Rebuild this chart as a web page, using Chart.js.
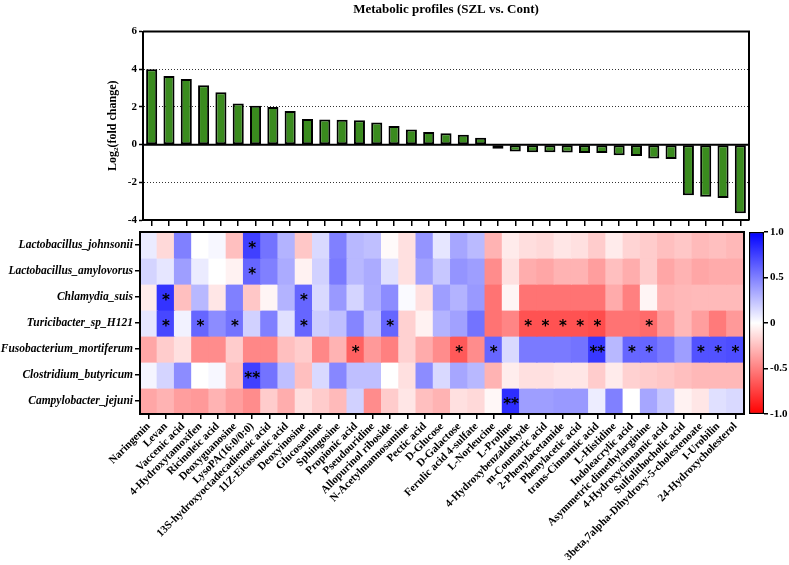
<!DOCTYPE html>
<html>
<head>
<meta charset="utf-8">
<script src="https://cdn.jsdelivr.net/npm/chart.js@4.4.0/dist/chart.umd.min.js"></script>
<style>
  body { margin: 0; background: #fff; }
  #wrap { position: relative; width: 789px; height: 565px; }
  canvas { position: absolute; }
</style>
</head>
<body>
<div id="wrap">
  <canvas id="bars" style="left:0;top:0" width="789" height="232"></canvas>
  <canvas id="heat" style="left:0;top:222px" width="789" height="343"></canvas>
  <canvas id="scale" style="left:735px;top:222px" width="54" height="343"></canvas>
</div>
<script>
// metabolites (x categories, shared by bars and heatmap)
const metabolites = [
  "Naringenin", "Levan", "Vaccenic acid", "4-Hydroxytamoxifen", "Ricinoleic acid",
  "Deoxyguanosine", "LysoPA(16:0/0:0)", "13S-hydroxyoctadecadienoic acid", "11Z-Eicosenoic acid",
  "Deoxyinosine", "Glucosamine", "Sphingosine", "Propionic acid", "Pseudouridine",
  "Allopurinol riboside", "N-Acetylmannosamine", "Pectic acid", "D-Glucose", "D-Galactose",
  "Ferulic acid 4-sulfate", "L-Norleucine", "L-Proline", "4-Hydroxybenzaldehyde",
  "m-Coumaric acid", "2-Phenylacetamide", "Phenylacetic acid", "trans-Cinnamic acid",
  "L-Histidine", "Indoleacrylic acid", "Asymmetric dimethylarginine", "4-Hydroxycinnamic acid",
  "Sulfolithocholic acid", "3beta,7alpha-Dihydroxy-5-cholestenoate", "I-Urobilin",
  "24-Hydroxycholesterol"
];

// log2 fold change (SZL vs. Cont)
const log2FC = [
  4.0, 3.64, 3.49, 3.15, 2.78, 2.18, 2.06, 2.0, 1.78, 1.36, 1.34, 1.32, 1.30, 1.18,
  0.99, 0.81, 0.67, 0.60, 0.53, 0.37, -0.22, -0.37, -0.40, -0.40, -0.42, -0.44, -0.44,
  -0.56, -0.60, -0.74, -0.76, -2.69, -2.76, -2.83, -3.64
];

const bacteria = [
  "Lactobacillus_johnsonii", "Lactobacillus_amylovorus", "Chlamydia_suis",
  "Turicibacter_sp_H121", "Fusobacterium_mortiferum", "Clostridium_butyricum",
  "Campylobacter_jejuni"
];

// correlation coefficients, one row per bacterium
const johnsonii = [0.08, -0.15, 0.5, 0.0, 0.03, -0.25, 0.75, 0.55, 0.3, -0.22, 0.15, 0.5, 0.28, 0.25, -0.02, -0.12, 0.42, 0.1, 0.35, 0.27, -0.3, -0.08, -0.13, -0.15, -0.1, -0.12, -0.2, -0.08, -0.17, -0.2, -0.25, -0.22, -0.27, -0.25, -0.28];
const amylovorus = [0.17, 0.1, 0.38, 0.08, 0.0, -0.05, 0.6, 0.5, 0.33, -0.05, 0.18, 0.52, 0.28, 0.33, 0.12, -0.12, 0.37, 0.22, 0.42, 0.38, -0.45, -0.12, -0.32, -0.35, -0.3, -0.3, -0.38, -0.25, -0.32, -0.2, -0.35, -0.3, -0.35, -0.33, -0.33];
const chlamydia = [-0.08, 0.8, -0.25, 0.28, -0.1, 0.5, -0.22, -0.04, 0.3, 0.6, 0.15, 0.4, 0.17, 0.32, 0.45, 0.02, -0.12, 0.38, 0.3, 0.4, -0.55, -0.04, -0.55, -0.55, -0.55, -0.55, -0.55, -0.33, -0.5, -0.04, -0.3, -0.28, -0.27, -0.27, -0.27];
const turicibacter = [0.1, 0.72, 0.05, 0.6, 0.45, 0.55, 0.18, 0.5, 0.12, 0.6, 0.2, 0.25, 0.48, 0.25, 0.6, -0.18, -0.05, 0.3, 0.37, 0.55, -0.55, -0.48, -0.68, -0.68, -0.68, -0.68, -0.7, -0.55, -0.55, -0.58, -0.4, -0.28, -0.38, -0.52, -0.4];
const fusobacterium = [-0.35, -0.2, -0.12, -0.45, -0.45, -0.2, -0.47, -0.47, -0.25, -0.2, -0.47, -0.3, -0.62, -0.4, -0.5, -0.18, -0.33, -0.45, -0.65, -0.45, 0.6, 0.15, 0.52, 0.52, 0.52, 0.55, 0.78, 0.28, 0.6, 0.6, 0.52, 0.38, 0.68, 0.68, 0.7];
const clostridium = [0.04, 0.17, 0.45, 0.0, 0.03, -0.25, 0.75, 0.55, 0.25, -0.25, 0.15, 0.47, 0.25, 0.25, 0.0, -0.12, 0.45, 0.15, 0.35, 0.28, -0.3, -0.07, -0.12, -0.12, -0.1, -0.1, -0.2, -0.08, -0.18, -0.2, -0.22, -0.25, -0.28, -0.28, -0.28];
const campylobacter = [-0.35, -0.3, -0.38, -0.4, -0.3, -0.38, -0.45, -0.2, -0.32, -0.13, -0.2, -0.27, 0.18, -0.45, -0.2, -0.1, -0.25, -0.3, -0.12, -0.15, -0.03, 0.82, 0.38, 0.38, 0.4, 0.4, 0.07, 0.5, 0.0, 0.35, 0.22, -0.05, -0.1, 0.12, 0.15];
const heatRows = [johnsonii, amylovorus, chlamydia, turicibacter, fusobacterium, clostridium, campylobacter];

// significance marks: [row, column, mark]
const sigMarks = [
  [0, 6, "*"], [1, 6, "*"], [2, 1, "*"], [2, 9, "*"],
  [3, 1, "*"], [3, 3, "*"], [3, 5, "*"], [3, 9, "*"], [3, 14, "*"],
  [3, 22, "*"], [3, 23, "*"], [3, 24, "*"], [3, 25, "*"], [3, 26, "*"], [3, 29, "*"],
  [4, 12, "*"], [4, 18, "*"], [4, 20, "*"], [4, 26, "**"], [4, 28, "*"], [4, 29, "*"],
  [4, 32, "*"], [4, 33, "*"], [4, 34, "*"],
  [5, 6, "**"], [6, 21, "**"]
];

const scaleTicks = [-1, -0.5, 0, 0.5, 1];

const serif = "'Liberation Serif', 'Times New Roman', serif";

function cellColor(v) {
  const t = Math.min(Math.abs(v), 1);
  const c = Math.round(255 * (1 - t));
  return v >= 0 ? `rgb(${c},${c},255)` : `rgb(255,${c},${c})`;
}

// box around the bar plot + solid zero line
const barFrame = {
  id: 'barFrame',
  afterDatasetsDraw(chart) {
    const {ctx, chartArea: a, scales} = chart;
    const y0 = scales.y.getPixelForValue(0);
    ctx.save();
    ctx.strokeStyle = '#000';
    ctx.lineWidth = 2;
    ctx.beginPath();
    ctx.moveTo(a.left, a.top); ctx.lineTo(a.right, a.top); ctx.lineTo(a.right, a.bottom);
    ctx.moveTo(a.left, y0); ctx.lineTo(a.right, y0);
    ctx.stroke();
    ctx.restore();
  }
};

new Chart('bars', {
  type: 'bar',
  data: {
    labels: metabolites,
    datasets: [{
      data: log2FC,
      backgroundColor: '#3a8b1e',
      borderColor: '#000',
      borderWidth: 2,
      borderSkipped: false,
      barPercentage: 0.64,
      categoryPercentage: 1
    }]
  },
  options: {
    responsive: false,
    animation: false,
    layout: { padding: { top: 0, right: 40, bottom: 0, left: 100 } },
    plugins: {
      legend: { display: false },
      tooltip: { enabled: false },
      title: {
        display: true,
        fullSize: false,
        text: 'Metabolic profiles (SZL vs. Cont)',
        color: '#000',
        font: { family: serif, size: 13, weight: 'bold' },
        padding: { top: 2, bottom: 14 }
      }
    },
    scales: {
      x: {
        grid: { offset: false, drawOnChartArea: false, color: '#000', lineWidth: 1.5, tickLength: 6 },
        border: { color: '#000', width: 2 },
        ticks: { display: false },
        afterFit: a => { a.height = 12; }
      },
      y: {
        min: -4, max: 6,
        ticks: { stepSize: 2, color: '#000', padding: 2, font: { family: serif, size: 11, weight: 'bold' } },
        grid: { color: '#333', lineWidth: 1, tickLength: 4, tickColor: '#000', tickWidth: 1.5 },
        border: { color: '#000', width: 2, dash: [1, 2] },
        title: {
          display: true,
          text: 'Log\u2082(fold change)',
          color: '#000',
          font: { family: serif, size: 12, weight: 'bold' },
          padding: { top: 6, bottom: 2 }
        },
        afterFit: a => { a.width = 43; }
      }
    }
  },
  plugins: [barFrame]
});

// frame + significance stars for the heatmap
const heatDecor = {
  id: 'heatDecor',
  afterDatasetsDraw(chart) {
    const {ctx, chartArea: a, scales} = chart;
    ctx.save();
    ctx.fillStyle = '#000';
    ctx.font = "bold 15px 'DejaVu Sans', sans-serif";
    ctx.textAlign = 'center';
    ctx.textBaseline = 'middle';
    sigMarks.forEach(([r, c, m]) => {
      const x = scales.x.getPixelForValue(c);
      const y = scales.y.getPixelForValue(r + 0.5);
      ctx.fillText(m, x, y + 4);
    });
    ctx.strokeStyle = '#000';
    ctx.lineWidth = 2;
    ctx.strokeRect(a.left, a.top, a.right - a.left, a.bottom - a.top);
    ctx.restore();
  }
};

new Chart('heat', {
  type: 'bar',
  data: {
    labels: metabolites,
    datasets: heatRows.map((vals, r) => ({
      label: bacteria[r],
      data: vals.map(() => 1),
      backgroundColor: vals.map(cellColor),
      borderWidth: 0,
      barPercentage: 1,
      categoryPercentage: 1,
      inflateAmount: 0.6
    }))
  },
  options: {
    responsive: false,
    animation: false,
    layout: { padding: { top: 10, right: 45, bottom: 0, left: 0 } },
    plugins: { legend: { display: false }, tooltip: { enabled: false } },
    scales: {
      x: {
        stacked: true,
        grid: { offset: false, drawOnChartArea: false, color: '#000', lineWidth: 1.5, tickLength: 5 },
        border: { color: '#000', width: 2 },
        ticks: {
          autoSkip: false, minRotation: 45, maxRotation: 45, padding: 1, color: '#000',
          font: { family: serif, size: 11, weight: 'bold' }
        },
        afterFit: a => { a.height = 151; }
      },
      y: {
        stacked: true,
        reverse: true,
        min: 0, max: 7,
        afterBuildTicks: a => { a.ticks = bacteria.map((b, i) => ({ value: i + 0.5 })); },
        ticks: {
          color: '#000', padding: 2,
          font: { family: serif, size: 11.5, weight: 'bold', style: 'italic' },
          callback: v => bacteria[Math.floor(v)]
        },
        grid: { drawOnChartArea: false, color: '#000', lineWidth: 1.5, tickLength: 5 },
        border: { color: '#000', width: 2 },
        afterFit: a => { a.width = 140; }
      }
    }
  },
  plugins: [heatDecor]
});

// colour scale bar
new Chart('scale', {
  type: 'bar',
  data: {
    labels: [''],
    datasets: [{
      data: [[scaleTicks[0], scaleTicks[scaleTicks.length - 1]]],
      backgroundColor: ctx => {
        const a = ctx.chart.chartArea;
        if (!a) return '#fff';
        const g = ctx.chart.ctx.createLinearGradient(0, a.top, 0, a.bottom);
        g.addColorStop(0, cellColor(1));
        g.addColorStop(0.5, cellColor(0));
        g.addColorStop(1, cellColor(-1));
        return g;
      },
      borderColor: '#000',
      borderWidth: 1.5,
      borderSkipped: false,
      barPercentage: 1,
      categoryPercentage: 1
    }]
  },
  options: {
    responsive: false,
    animation: false,
    layout: { padding: { top: 10, right: 0, bottom: 151, left: 14 } },
    plugins: { legend: { display: false }, tooltip: { enabled: false } },
    scales: {
      x: { display: false },
      y: {
        position: 'right',
        min: -1, max: 1,
        afterBuildTicks: a => { a.ticks = scaleTicks.map(v => ({ value: v })); },
        ticks: {
          color: '#000', padding: 2,
          font: { family: serif, size: 11, weight: 'bold' },
          callback: v => v === 0 ? '0' : v.toFixed(1)
        },
        grid: { drawOnChartArea: false, color: '#000', lineWidth: 1.5, tickLength: 4 },
        border: { display: false },
        afterFit: a => { a.width = 25; }
      }
    }
  }
});
</script>
</body>
</html>
